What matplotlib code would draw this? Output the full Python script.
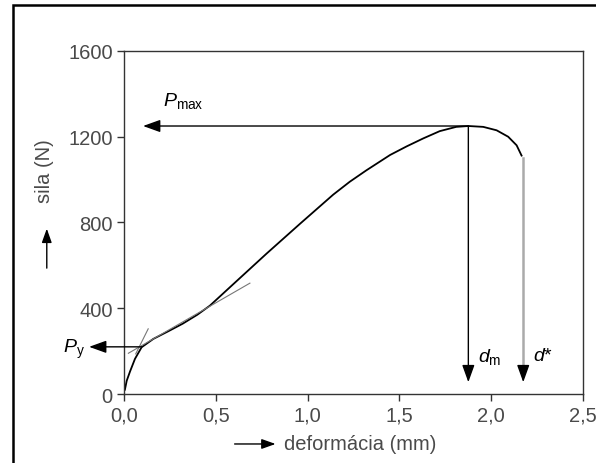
import matplotlib.pyplot as plt
from matplotlib.patches import Rectangle, FancyArrowPatch

plt.rcParams['font.family'] = ['Liberation Sans', 'DejaVu Sans']
plt.rcParams['mathtext.fontset'] = 'custom'
plt.rcParams['mathtext.rm'] = 'Liberation Sans'
plt.rcParams['mathtext.it'] = 'Liberation Sans:italic'

# load-deformation curve
deform = [0.005, 0.015, 0.033, 0.06, 0.096, 0.16, 0.24, 0.32, 0.40, 0.468,
          0.595, 0.777, 0.959, 1.14, 1.23, 1.32, 1.45, 1.54, 1.63, 1.72,
          1.81, 1.876, 1.957, 2.03, 2.093, 2.139, 2.166]
force = [20, 62, 105, 164, 218, 257, 292, 328, 370, 412,
         512, 655, 794, 930, 990, 1043, 1115, 1155, 1192, 1226,
         1246, 1250, 1246, 1230, 1200, 1160, 1112]

# tangent lines used to find the yield point
steep_x = [0.064, 0.132]
steep_y = [187, 304]
shallow_x = [0.024, 0.686]
shallow_y = [190, 517]

p_max = 1250
p_y = 220
d_m = 1.876
d_star = 2.175
d_star_top = 1103

xticks = [0.0, 0.5, 1.0, 1.5, 2.0, 2.5]
xtick_labels = ['0,0', '0,5', '1,0', '1,5', '2,0', '2,5']
yticks = [0, 400, 800, 1200, 1600]

text_col = '#4a4a4a'
fs = 14.5

fig = plt.figure(figsize=(5.96, 4.64), dpi=100)
ax = fig.add_axes([0.208, 0.1487, 0.770, 0.7393])

ax.plot(deform, force, color='black', lw=1.3)
ax.plot(steep_x, steep_y, color='#777777', lw=0.8)
ax.plot(shallow_x, shallow_y, color='#777777', lw=0.8)

arrow = dict(arrowstyle='-|>,head_length=0.75,head_width=0.27',
             color='black', lw=1, shrinkA=0, shrinkB=0, mutation_scale=14)

# P_max and P_y arrows to the left
ax.annotate('', xy=(0.104, p_max), xytext=(d_m, p_max), arrowprops=arrow,
            annotation_clip=False)
ax.annotate('', xy=(-0.19, p_y), xytext=(0.096, p_y), arrowprops=arrow,
            annotation_clip=False)
# d_m arrow down
ax.annotate('', xy=(d_m, 55), xytext=(d_m, p_max), arrowprops=arrow)
# d* gray line with black head
ax.plot([d_star, d_star], [d_star_top, 110], color='#aaaaaa', lw=1.8)
ax.annotate('', xy=(d_star, 55), xytext=(d_star, 130), arrowprops=arrow)

ax.text(0.21, 1370, r'$P_{\rm max}$', fontsize=14, color='black',
        va='center', ha='left')
ax.text(-0.33, p_y - 5, r'$P_{\rm y}$', fontsize=14, color='black',
        va='center', ha='left', clip_on=False)
ax.text(1.93, 175, r'$d_{\rm m}$', fontsize=14, color='black',
        va='center', ha='left')
ax.text(2.23, 178, r'$d$*', fontsize=14, color='black',
        va='center', ha='left')

ax.set_xlim(0, 2.5)
ax.set_ylim(0, 1600)
ax.set_xticks(xticks)
ax.set_xticklabels(xtick_labels)
ax.set_yticks(yticks)
ax.tick_params(direction='out', length=5, width=1, labelsize=fs,
               labelcolor=text_col, color='#333333', pad=3)
for s in ax.spines.values():
    s.set_linewidth(1)
    s.set_color('#333333')

# axis labels with arrows, placed in figure coords
fig.text(0.075, 0.631, 'sila (N)', rotation=90, fontsize=fs,
         color=text_col, ha='center', va='center')
fig.patches.append(FancyArrowPatch(
    (0.0785, 0.414), (0.0785, 0.511), transform=fig.transFigure,
    arrowstyle='-|>,head_length=0.7,head_width=0.25', mutation_scale=12,
    color='black', lw=1))
fig.text(0.477, 0.041, 'deformácia (mm)', fontsize=fs, color=text_col,
         ha='left', va='center')
fig.patches.append(FancyArrowPatch(
    (0.389, 0.041), (0.467, 0.041), transform=fig.transFigure,
    arrowstyle='-|>,head_length=0.7,head_width=0.25', mutation_scale=12,
    color='black', lw=1))

# outer frame
fig.patches.append(Rectangle((0.021, -0.1), 1.2, 1.086,
                             transform=fig.transFigure, fill=False,
                             lw=1.8, edgecolor='black'))

fig.savefig('out.png', dpi=100)
